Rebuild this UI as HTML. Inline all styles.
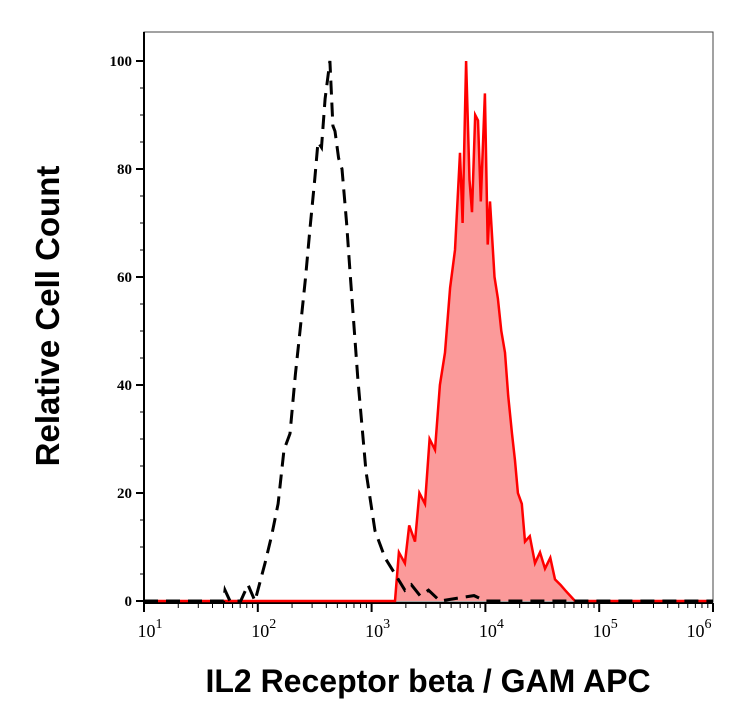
<!DOCTYPE html>
<html><head><meta charset="utf-8"><style>
body{margin:0;background:#fff;width:756px;height:723px;overflow:hidden}
text{font-family:"Liberation Serif",serif}
</style></head><body>
<svg id="chart" width="756" height="723" xmlns="http://www.w3.org/2000/svg">
<rect x="144" y="32" width="569" height="570" fill="#fff" stroke="#444" stroke-width="1"/>
<g id="ax"></g>
<path id="redArea" fill="#fb9a9a" stroke="none"/>
<path id="redLine" fill="none" stroke="#f00" stroke-width="2.5"/>
<path id="blackLine" fill="none" stroke="#000" stroke-width="3" stroke-dasharray="14,8"/>
<text x="428" y="692" text-anchor="middle" style="font-family:'Liberation Sans',sans-serif;font-weight:bold;font-size:32px">IL2 Receptor beta / GAM APC</text>
<text transform="translate(59,316) rotate(-90)" text-anchor="middle" style="font-family:'Liberation Sans',sans-serif;font-weight:bold;font-size:33px">Relative Cell Count</text>
</svg>
<script>
const blackX=[1.0,1.7,1.712,1.756,1.85,1.914,1.975,2.063,2.12,2.178,2.23,2.283,2.33,2.371,2.42,2.459,2.50,2.529,2.56,2.591,2.634,2.66,2.678,2.71,2.740,2.78,2.810,2.880,2.951,3.03,3.118,3.206,3.293,3.35,3.425,3.5,3.6,3.9,4.0,4.128,5.007,6.0];
const blackY=[0,0,2,0,0,3,0,7,12,18,28,31,42,50,60,69,78,85,84,93,100,88,87,82,80,70,61,41,24,13,8,5,2,3,1,2,0,1,0,0,0,0];
const redX=[1.0,3.15,3.206,3.24,3.293,3.33,3.381,3.42,3.469,3.51,3.557,3.60,3.645,3.69,3.733,3.777,3.80,3.83,3.86,3.882,3.91,3.935,3.96,3.996,4.02,4.04,4.08,4.11,4.14,4.172,4.20,4.234,4.26,4.286,4.32,4.348,4.39,4.436,4.48,4.524,4.57,4.612,4.66,4.70,4.787,6.0];
const redY=[0,0,0,9,7,14,11,20,18,30,28,40,46,58,65,83,70,100,78,72,90,89,74,94,66,74,60,56,50,46,38,31,26,20,18,11,12,7,9,6,8,4,3,2,0,0];
const yTicks=[0,20,40,60,80,100];
const xDecades=[1,2,3,4,5,6];
const X0=144,DEC=113.8,Y0=601,YS=5.4;
const sx=v=>X0+(v-1)*DEC, sy=v=>Y0-v*YS;
const ns="http://www.w3.org/2000/svg";
function mk(t,a,p){const e=document.createElementNS(ns,t);for(const k in a)e.setAttribute(k,a[k]);p.appendChild(e);return e;}
const ax=document.getElementById('ax');
let e=mk('line',{x1:X0,y1:32,x2:X0,y2:604,stroke:'#000','stroke-width':2},ax);


e=mk('line',{x1:X0,y1:603,x2:713,y2:603,stroke:'#000','stroke-width':2},ax);


for(let v=0;v<=100;v+=5){const big=v%20===0;mk('line',{x1:X0-(big?8:4),x2:X0,y1:sy(v),y2:sy(v),stroke:'#000','stroke-width':big?2:1},ax);}
yTicks.forEach(v=>{const t=mk('text',{x:X0-12,y:sy(v)+5,'text-anchor':'end','font-size':15,'font-weight':'bold'},ax);t.textContent=v;

});
xDecades.forEach(d=>{const x=sx(d);mk('line',{x1:x,x2:x,y1:603,y2:612,stroke:'#000','stroke-width':2},ax);
if(d<6)for(let m=2;m<10;m++){const xm=sx(d+Math.log10(m));mk('line',{x1:xm,x2:xm,y1:603,y2:608,stroke:'#000','stroke-width':1},ax);}
const t=mk('text',{x:x+(d===6?-14:6),y:637,'text-anchor':'middle','font-size':18},ax);t.textContent='10';
const s=mk('tspan',{dy:-9,'font-size':14},t);s.textContent=d;

});
const pts=(xs,ys)=>xs.map((v,i)=>sx(v).toFixed(1)+','+sy(ys[i]).toFixed(1));
const rp=pts(redX,redY);
document.getElementById('redLine').setAttribute('d','M'+rp.join('L'));
document.getElementById('redArea').setAttribute('d','M'+rp.join('L')+'Z');
document.getElementById('blackLine').setAttribute('d','M'+pts(blackX,blackY).join('L'));
</script>
</body></html>
